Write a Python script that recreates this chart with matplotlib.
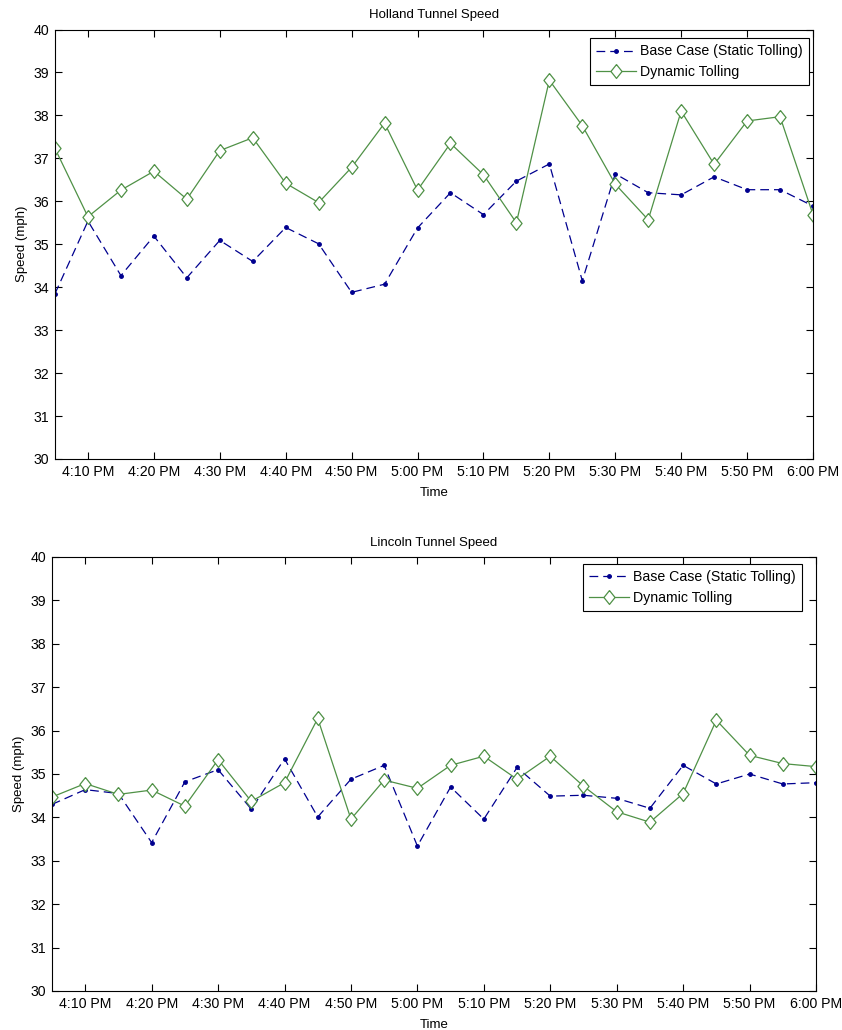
import matplotlib
matplotlib.use('Agg')
import matplotlib.dates as mdates
import pandas as pd
from matplotlib import pyplot as plt

times = pd.date_range('2012-01-01 16:05', '2012-01-01 18:00', freq='5min')

holland_base = [33.85, 35.54, 34.27, 35.19, 34.22, 35.09, 34.60, 35.39, 35.01, 33.88, 34.07, 35.38,
                36.20, 35.69, 36.47, 36.87, 34.15, 36.64, 36.20, 36.15, 36.57, 36.27, 36.27, 35.89]
holland_dynamic = [37.23, 35.64, 36.26, 36.70, 36.05, 37.18, 37.48, 36.42, 35.97, 36.79, 37.82, 36.26,
                   37.35, 36.62, 35.50, 38.82, 37.76, 36.40, 35.57, 38.10, 36.86, 37.87, 37.97, 35.69]
lincoln_base = [34.30, 34.64, 34.55, 33.42, 34.82, 35.10, 34.19, 35.35, 34.01, 34.88, 35.20, 33.34,
                34.70, 33.96, 35.15, 34.49, 34.51, 34.44, 34.21, 35.20, 34.77, 35.00, 34.77, 34.80]
lincoln_dynamic = [34.47, 34.78, 34.53, 34.63, 34.26, 35.33, 34.37, 34.80, 36.28, 33.96, 34.86, 34.67,
                   35.20, 35.41, 34.88, 35.41, 34.72, 34.13, 33.89, 34.55, 36.24, 35.43, 35.24, 35.17]

plt.rcParams['font.family'] = ['Liberation Sans', 'DejaVu Sans']
plt.rcParams['font.size'] = 10.2

BLUE = '#00008f'
GREEN = '#4f9146'
# matlab-style diamond, a bit taller than wide
DIAMOND = [(0, 1), (0.8, 0), (0, -1), (-0.8, 0), (0, 1)]


def draw(ax, base, dynamic, title, leg_anchor):
    ax.plot(times, base, '--', color=BLUE, lw=0.9, marker='.', ms=5, dashes=(7, 4),
            label='Base Case (Static Tolling)')
    ax.plot(times, dynamic, '-', color=GREEN, lw=0.9, marker=DIAMOND, ms=10, mfc='white',
            mec=GREEN, mew=0.9, label='Dynamic Tolling')
    ax.set_xlim(times[0], times[-1])
    ax.set_ylim(30, 40)
    ax.set_yticks(range(30, 41))
    ax.set_xticks(times[1::2])
    ax.xaxis.set_major_formatter(mdates.DateFormatter('%-I:%M %p'))
    ax.tick_params(direction='in', length=5, top=True, right=True, width=0.8, pad=4)
    for s in ax.spines.values():
        s.set_linewidth(0.8)
    ax.set_title(title, fontsize=9.5, pad=8)
    ax.set_xlabel('Time', fontsize=9.5, labelpad=6)
    ax.set_ylabel('Speed (mph)', fontsize=9.5, labelpad=4)
    leg = ax.legend(loc='upper right', bbox_to_anchor=leg_anchor, fancybox=False,
                    edgecolor='black', framealpha=1, borderaxespad=0, handlelength=2.8,
                    borderpad=0.45, labelspacing=0.45, handletextpad=0.3)
    leg.get_frame().set_linewidth(0.8)


fig = plt.figure(figsize=(8.42, 10.30), dpi=100)
ax1 = fig.add_axes([55 / 842, 1 - 459 / 1030, 758 / 842, 429.5 / 1030])
ax2 = fig.add_axes([52 / 842, 1 - 991 / 1030, 764 / 842, 434 / 1030])

draw(ax1, holland_base, holland_dynamic, 'Holland Tunnel Speed', (0.9947, 0.980))
draw(ax2, lincoln_base, lincoln_dynamic, 'Lincoln Tunnel Speed', (0.9817, 0.984))

fig.savefig('out.png', dpi=100)
